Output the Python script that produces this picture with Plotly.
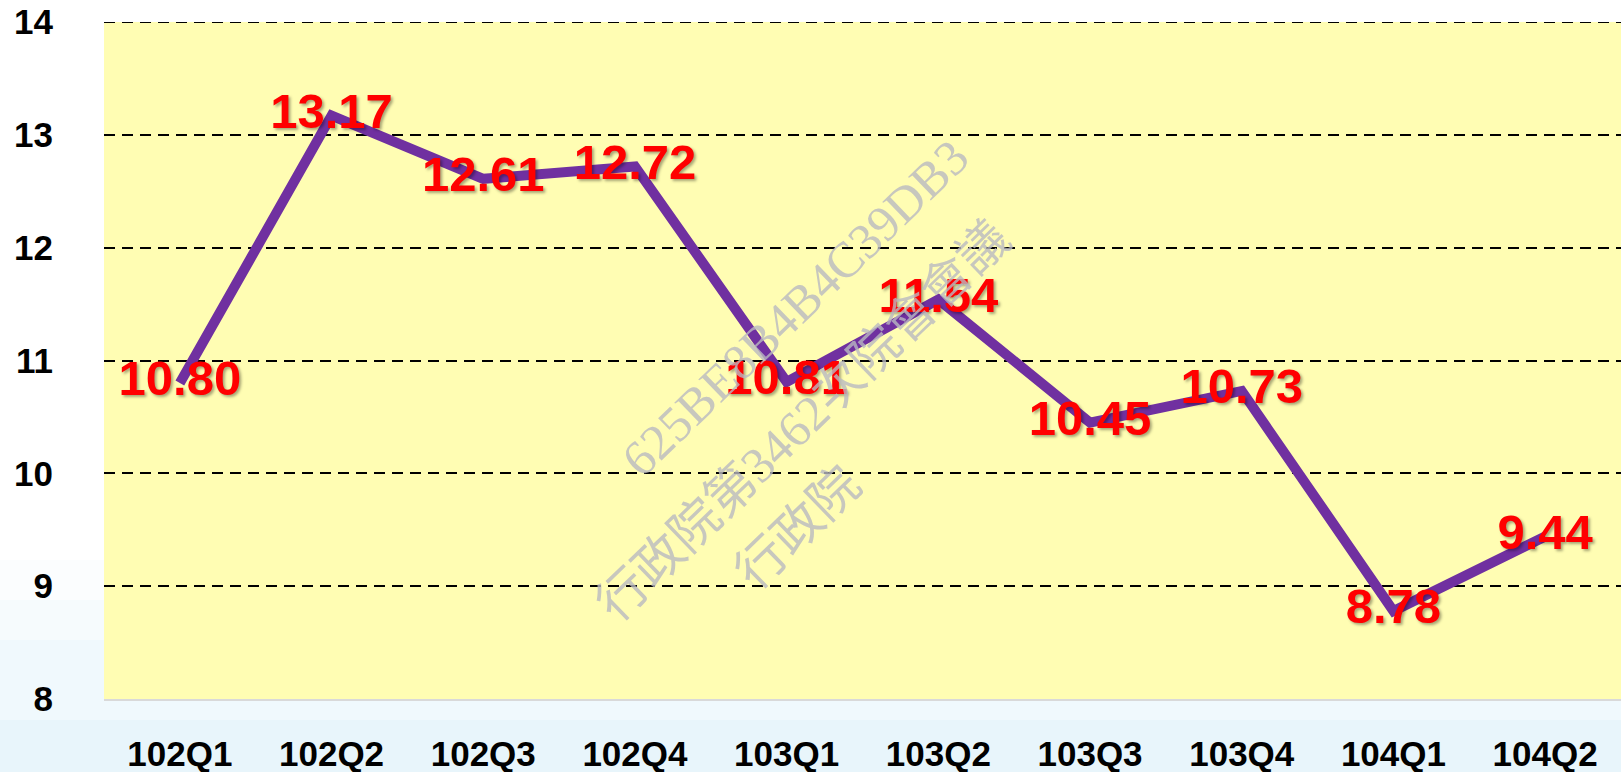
import plotly.graph_objects as go

categories = ["102Q1", "102Q2", "102Q3", "102Q4", "103Q1", "103Q2", "103Q3", "103Q4", "104Q1", "104Q2"]
values = [10.80, 13.17, 12.61, 12.72, 10.81, 11.54, 10.45, 10.73, 8.78, 9.44]
y_ticks = [8, 9, 10, 11, 12, 13, 14]
watermark_lines = ["625BE8B4B4C39DB3", "行政院第3462次院會會議", "行政院"]

W, H = 1621, 772
ML, MR, MT, MB = 104, 0, 22, 73
PW, PH = W - ML - MR, H - MT - MB

fig = go.Figure()
fig.add_trace(go.Scatter(
    x=categories, y=values, mode="lines+text",
    line=dict(color="#7030A0", width=10),
    text=[f"{v:.2f}" for v in values],
    textposition="middle center",
    textfont=dict(family="Liberation Sans, Arial, sans-serif", size=49, color="#FF0000",
                  weight="bold", shadow="2px 2px 3px rgba(0,0,0,0.35)"),
    hoverinfo="skip", showlegend=False,
))

def px2paper_x(px):
    return (px - ML) / PW
def px2paper_y(py):
    return (H - MB - py) / PH

shapes = []
# background tint below / left of plot
bands = [(699, 720, "#F0F9FD"), (720, 772, "#E8F5FB")]
for (y0, y1, c) in bands:
    shapes.append(dict(type="rect", xref="paper", yref="paper", x0=px2paper_x(0), x1=1,
                       y0=px2paper_y(y1), y1=px2paper_y(y0), fillcolor=c, line_width=0, layer="below"))
left_bands = [(560, 600, "#FBFDFE"), (600, 640, "#F6FBFD"), (640, 699, "#F0F9FD")]
for (y0, y1, c) in left_bands:
    shapes.append(dict(type="rect", xref="paper", yref="paper", x0=px2paper_x(0), x1=0,
                       y0=px2paper_y(y1), y1=px2paper_y(y0), fillcolor=c, line_width=0, layer="below"))
# top gridline (plotly omits the grid line at the range edge)
shapes.append(dict(type="line", xref="paper", yref="y", x0=0, x1=1, y0=y_ticks[-1], y1=y_ticks[-1],
                   line=dict(color="#000000", width=2, dash="11px,7px"), layer="below"))

annotations = []
wm_centers = [(795, 308), (803, 421), (798, 528)]
for txt, (cx, cy) in zip(watermark_lines, wm_centers):
    annotations.append(dict(
        text=txt, xref="paper", yref="paper", x=px2paper_x(cx), y=px2paper_y(cy),
        xanchor="center", yanchor="middle", showarrow=False, textangle=-44,
        font=dict(family="Liberation Serif, Noto Sans CJK TC, serif", size=50, color="rgba(185,185,192,0.8)"),
    ))

fig.update_layout(
    width=W, height=H,
    margin=dict(l=ML, r=MR, t=MT, b=MB, pad=0),
    paper_bgcolor="#FFFFFF",
    plot_bgcolor="#FFFDB3",
    shapes=shapes,
    annotations=annotations,
    xaxis=dict(
        type="category", range=[-0.5, 9.5], showgrid=False, zeroline=False, automargin=False,
        showline=True, linecolor="#D9D9D9", linewidth=2,
        tickfont=dict(family="Liberation Sans, Arial, sans-serif", size=35, color="#000000", weight="bold"),
        ticks="", ticklabelstandoff=23,
    ),
    yaxis=dict(
        range=[8, 14], tickvals=y_ticks, showgrid=True, gridcolor="#000000", gridwidth=2,
        griddash="11px,7px", zeroline=False, showline=False, automargin=False,
        tickfont=dict(family="Liberation Sans, Arial, sans-serif", size=35, color="#000000", weight="bold"),
        ticks="", ticklabelstandoff=50,
    ),
)

fig.write_html("out.html", config={"displayModeBar": False},
               post_script="document.body.style.margin='0';")
